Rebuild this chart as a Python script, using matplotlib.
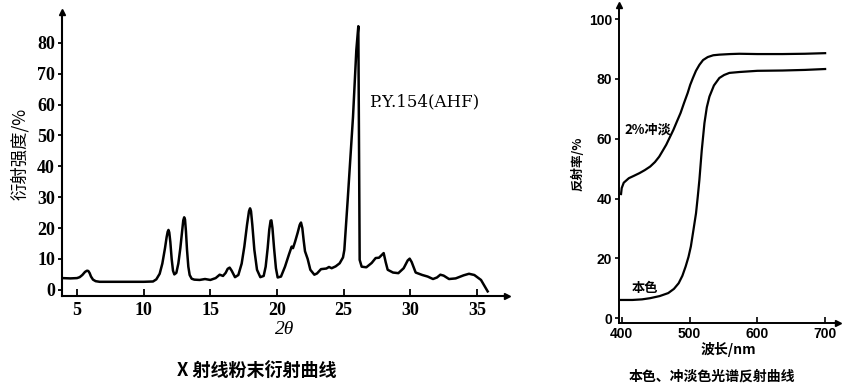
import matplotlib.pyplot as plt
import numpy as np

plt.rcParams['font.family'] = ['Noto Sans CJK SC', 'DejaVu Sans']

# X射线粉末衍射数据 (2θ, 强度%)
two_theta = [3.9, 4.5, 5.0, 5.2, 5.4, 5.6, 5.75, 5.85, 5.95, 6.05, 6.2, 6.4, 6.7, 7.0,
             8.0, 9.0, 10.0, 10.7, 10.95, 11.2, 11.4, 11.6, 11.72, 11.8, 11.86, 11.92,
             12.0, 12.1, 12.2, 12.3, 12.45, 12.6, 12.75, 12.88, 12.97, 13.04, 13.1,
             13.17, 13.25, 13.35, 13.45, 13.6, 13.8, 14.2, 14.6, 15.0, 15.4, 15.7, 15.95,
             16.15, 16.3, 16.45, 16.6, 16.85, 17.1, 17.35, 17.55, 17.75, 17.9, 17.98,
             18.05, 18.15, 18.3, 18.5, 18.75, 19.0, 19.15, 19.3, 19.42, 19.52, 19.58,
             19.66, 19.78, 19.92, 20.05, 20.3, 20.6, 20.9, 21.1, 21.2, 21.35, 21.55,
             21.7, 21.8, 21.9, 22.0, 22.1, 22.3, 22.5, 22.8, 23.0, 23.3, 23.7, 23.9,
             24.1, 24.4, 24.7, 24.95, 25.05, 25.3, 25.7, 25.95, 26.1, 26.2, 26.35,
             26.7, 27.1, 27.4, 27.65, 27.9, 28.0, 28.15, 28.3, 28.7, 29.1, 29.5, 29.8,
             29.95, 30.1, 30.4, 30.9, 31.3, 31.7, 32.0, 32.25, 32.5, 32.9, 33.4, 34.0,
             34.4, 34.8, 35.3, 35.8]
intensity = [3.8, 3.7, 3.8, 4.1, 4.8, 5.8, 6.2, 6.1, 5.4, 4.3, 3.3, 2.8, 2.6, 2.6,
             2.6, 2.6, 2.6, 2.7, 3.4, 5.2, 8.5, 13.5, 17, 18.8, 19.4, 18.6,
             15.5, 10, 6.2, 5.0, 5.5, 8.5, 13.5, 19, 22.5, 23.5, 22.8,
             19, 13, 7.5, 4.8, 3.6, 3.3, 3.2, 3.5, 3.2, 3.8, 4.9, 4.5,
             5.5, 6.8, 7.2, 6.2, 4.1, 4.8, 8.5, 14, 21, 25.5, 26.4,
             25.5, 21, 13, 6.5, 4.1, 4.5, 7.5, 13.5, 19.5, 22.4, 22.5,
             20, 13.5, 7, 4.0, 4.3, 7.5, 11.5, 14, 13.5, 15.5, 18.5,
             21, 21.8, 20, 16, 12.5, 10, 6.5, 4.9, 5.3, 6.7, 6.9, 7.4,
             7.0, 7.6, 8.6, 10.5, 12.9, 29, 56, 77.7, 85.4, 9.7, 7.5,
             7.3, 8.7, 10.3, 10.4, 11.5, 11.9, 9, 6.5, 5.6, 5.4, 7, 9.5,
             10.1, 9, 5.6, 4.8, 4.3, 3.5, 4.0, 4.9, 4.6, 3.5, 3.7, 4.7,
             5.2, 4.8, 3.2, -0.5]
xrd_xticks = [5, 10, 15, 20, 25, 30, 35]
xrd_yticks = [0, 10, 20, 30, 40, 50, 60, 70, 80]

# 光谱反射数据 (波长nm, 反射率%)
wl_dilute = [399, 400, 403, 410.5, 418, 426.2, 434, 442, 449, 455.3, 460, 465.7, 471,
             476.3, 481.5, 486.8, 492, 497.3, 501, 505, 509.5, 514.6, 520, 526.9, 535,
             544, 560, 573.5, 600, 637, 670, 700]
refl_dilute = [41.5, 43.5, 45.3, 46.8, 47.6, 48.5, 49.5, 50.7, 52.2, 54, 55.8, 58, 60.5,
               63, 65.8, 68.6, 72, 75.3, 78, 80.3, 82.7, 84.7, 86.3, 87.3, 87.9,
               88.1, 88.3, 88.4, 88.3, 88.3, 88.4, 88.6]
wl_mass = [399, 400, 415.8, 430, 442, 456, 468.6, 477, 484, 489.5, 494.3, 498.5, 502,
           505.8, 509.6, 512.2, 514.6, 518, 522, 525.5, 529.4, 536, 544, 551, 558.8,
           573.5, 600, 637, 670, 700]
refl_mass = [6.1, 6.1, 6.1, 6.3, 6.7, 7.4, 8.4, 9.8, 11.7, 14.2, 17.3, 20.5, 24,
             29.5, 35.1, 40.7, 46.3, 56, 65.2, 70.5, 74.1, 77.8, 80.3, 81.3, 82,
             82.3, 82.7, 82.8, 83, 83.3]
spec_xticks = [400, 500, 600, 700]
spec_yticks = [0, 20, 40, 60, 80, 100]

fig = plt.figure(figsize=(8.45, 3.85), dpi=100)

serif = 'Liberation Serif'

# ---- 左图 ----
ax1 = fig.add_axes([62 / 845, 1 - 296 / 385, 445 / 845, 284 / 385])
ax1.plot(two_theta, intensity, color='black', lw=1.8, solid_joinstyle='round')
ax1.set_xlim(3.875, 37.25)
ax1.set_ylim(-2, 90)
ax1.spines[['top', 'right']].set_visible(False)
ax1.spines[['left', 'bottom']].set_linewidth(1.5)
ax1.set_xticks(xrd_xticks)
ax1.set_yticks(xrd_yticks)
ax1.tick_params(axis='x', direction='in', length=5, width=1.3, pad=4)
ax1.tick_params(axis='y', direction='out', length=3, width=1.3, pad=2)
for lab in ax1.get_xticklabels() + ax1.get_yticklabels():
    lab.set_fontfamily(serif)
    lab.set_fontsize(13)
    lab.set_fontweight('bold')
ax1.plot(1, 0, '>k', ms=5, transform=ax1.transAxes, clip_on=False)
ax1.plot(0, 1, '^k', ms=5, transform=ax1.transAxes, clip_on=False)
ax1.text(26.9, 59.5, 'P.Y.154(AHF)', family='DejaVu Serif', fontsize=12)
ax1.set_ylabel('衍射强度/%', fontsize=12.5, labelpad=6)
ax1.set_xlabel('2θ', family=serif, style='italic', fontsize=14, labelpad=2)
fig.text(257 / 845, 1 - 370 / 385, 'X 射线粉末衍射曲线', ha='center', va='center',
         fontsize=13, fontweight='bold')

# ---- 右图 ----
ax2 = fig.add_axes([619 / 845, 1 - 322.7 / 385, 219 / 845, 317.7 / 385])
ax2.plot(wl_dilute, refl_dilute, color='black', lw=1.6, solid_joinstyle='round')
ax2.plot(wl_mass, refl_mass, color='black', lw=1.6, solid_joinstyle='round')
ax2.set_xlim(396, 719)
ax2.set_ylim(-1.5, 104.7)
ax2.spines[['top', 'right']].set_visible(False)
ax2.spines[['left', 'bottom']].set_linewidth(1.4)
ax2.set_xticks(spec_xticks)
ax2.set_yticks(spec_yticks)
ax2.tick_params(axis='x', direction='in', length=4, width=1.2, pad=3)
ax2.tick_params(axis='y', direction='out', length=3, width=1.2, pad=2)
for lab in ax2.get_xticklabels() + ax2.get_yticklabels():
    lab.set_fontfamily('Liberation Sans')
    lab.set_fontsize(10)
    lab.set_fontweight('bold')
ax2.plot(1, 0, '>k', ms=4, transform=ax2.transAxes, clip_on=False)
ax2.plot(0, 1, '^k', ms=4, transform=ax2.transAxes, clip_on=False)
ax2.text(438, 63, '2%冲淡', ha='center', va='center', fontsize=9.5, fontweight='bold')
ax2.text(434, 10, '本色', ha='center', va='center', fontsize=9.5, fontweight='bold')
ax2.set_ylabel('反射率/%', fontsize=9, fontweight='bold', labelpad=3)
ax2.set_xlabel('波长/nm', fontsize=10, fontweight='bold', labelpad=1)
fig.text(712 / 845, 1 - 377 / 385, '本色、冲淡色光谱反射曲线', ha='center', va='center',
         fontsize=10, fontweight='bold')

fig.savefig('out.png', dpi=100)
